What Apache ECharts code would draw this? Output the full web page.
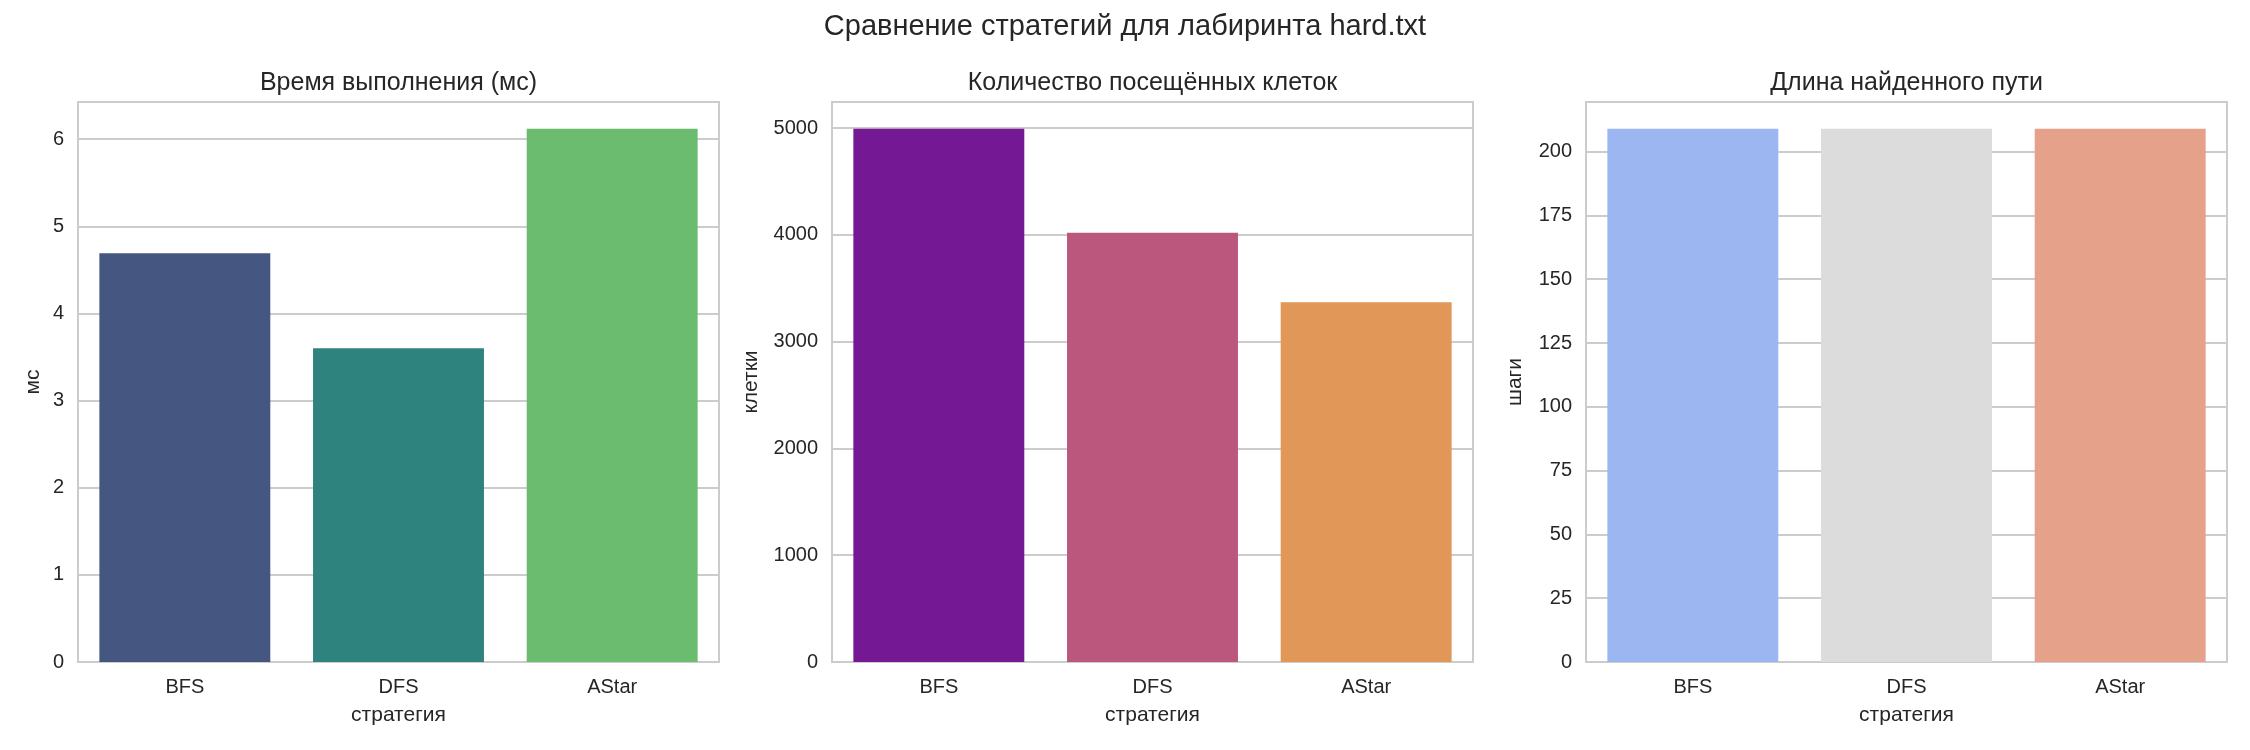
<!DOCTYPE html>
<html>
<head>
<meta charset="utf-8">
<title>Сравнение стратегий</title>
<script src="https://cdn.jsdelivr.net/npm/echarts@6/dist/echarts.min.js"></script>
<style>
  html, body { margin: 0; padding: 0; background: #fff; }
  #chart { width: 2250px; height: 750px; }
</style>
</head>
<body>
<div id="chart"></div>
<script>
// data
const strategies = ['BFS', 'DFS', 'AStar']
const timeMs = [4.69, 3.60, 6.12]
const visitedCells = [4995, 4020, 3370]
const pathLength = [209, 209, 209]
const tickSteps = [1, 1000, 25]

const panelTitles = ['Время выполнения (мс)', 'Количество посещённых клеток', 'Длина найденного пути']
const yNames = ['мс', 'клетки', 'шаги']

// seaborn palettes (viridis / plasma / coolwarm, saturation 0.75)
const palettes = [
    ['#455681', '#2f837f', '#6bbc6e'],
    ['#741893', '#bb577c', '#e19757'],
    ['#9bb6f0', '#dcdcdc', '#e5a18a']
]

const font = 'Liberation Sans, Arial, sans-serif'
const textColor = '#262626'
const lineColor = '#cccccc'

const panelLeft = [78, 832, 1586]
const panelWidth = 641
const panelTop = 102
const panelHeight = 560
const yNameGap = [34, 70, 60]

const seriesData = [timeMs, visitedCells, pathLength]

const option = {
    backgroundColor: '#fff',
    animation: false,
    title: [{
        text: 'Сравнение стратегий для лабиринта hard.txt',
        left: 1125,
        top: 12,
        padding: 0,
        textAlign: 'center',
        textStyle: { fontFamily: font, fontSize: 29, fontWeight: 'normal', color: textColor }
    }],
    grid: [],
    xAxis: [],
    yAxis: [],
    series: []
}

for (let i = 0; i < 3; i++) {
    option.title.push({
        text: panelTitles[i],
        left: panelLeft[i] + panelWidth / 2,
        top: 71,
        padding: 0,
        textAlign: 'center',
        textStyle: { fontFamily: font, fontSize: 25, fontWeight: 'normal', color: textColor }
    })
    option.grid.push({
        left: panelLeft[i],
        top: panelTop,
        width: panelWidth,
        height: panelHeight,
        show: true,
        backgroundColor: '#fff',
        borderColor: lineColor,
        borderWidth: 2
    })
    option.xAxis.push({
        type: 'category',
        gridIndex: i,
        data: strategies,
        name: 'стратегия',
        nameLocation: 'middle',
        nameGap: 43,
        nameTextStyle: { fontFamily: font, fontSize: 21, color: textColor },
        axisLine: { show: false },
        axisTick: { show: false },
        axisLabel: { fontFamily: font, fontSize: 20, color: textColor, margin: 15 },
        splitLine: { show: false }
    })
    option.yAxis.push({
        type: 'value',
        gridIndex: i,
        min: 0,
        max: v => v.max * 1.05,
        interval: tickSteps[i],
        name: yNames[i],
        nameLocation: 'middle',
        nameGap: yNameGap[i],
        nameTextStyle: { fontFamily: font, fontSize: 21, color: textColor },
        axisLine: { show: false },
        axisTick: { show: false },
        axisLabel: {
            fontFamily: font, fontSize: 20, color: textColor, margin: 14,
            showMaxLabel: false,
            formatter: v => String(v)
        },
        splitLine: { lineStyle: { color: lineColor, width: 2 } }
    })
    const pal = palettes[i]
    option.series.push({
        type: 'bar',
        xAxisIndex: i,
        yAxisIndex: i,
        data: seriesData[i],
        barCategoryGap: '20%',
        itemStyle: { color: p => pal[p.dataIndex] }
    })
}

const mychart = echarts.init(document.getElementById('chart'))
mychart.setOption(option)
</script>
</body>
</html>
